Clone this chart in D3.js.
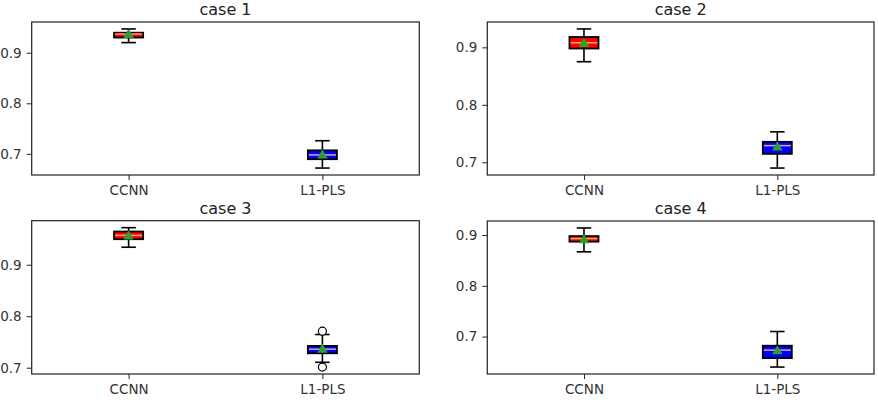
<!DOCTYPE html>
<html>
<head>
<meta charset="utf-8">
<script src="https://cdn.jsdelivr.net/npm/d3@7"></script>
<style>
  body { margin: 0; background: #fff; }
  text { font-family: "DejaVu Sans", sans-serif; }
</style>
</head>
<body>
<div id="chart"></div>
<script>
// values, one entry per case: [CCNN, L1-PLS]
const cases = ["case 1", "case 2", "case 3", "case 4"];
const methods = ["CCNN", "L1-PLS"];
const whiskerLow  = [[0.920, 0.672], [0.875, 0.690], [0.934, 0.7105], [0.867, 0.640]];
const q1          = [[0.930, 0.6895], [0.898, 0.7147], [0.9496, 0.728], [0.887, 0.6576]];
const medians     = [[0.937, 0.698], [0.908, 0.729], [0.957, 0.736], [0.893, 0.6733]];
const q3          = [[0.9396, 0.707], [0.918, 0.7356], [0.9645, 0.7423], [0.898, 0.682]];
const whiskerHigh = [[0.947, 0.726], [0.932, 0.753], [0.972, 0.7645], [0.914, 0.710]];
const means       = [[0.935, 0.697], [0.906, 0.726], [0.955, 0.735], [0.890, 0.671]];
const outliers    = [[[], []], [[], []], [[], [0.771, 0.7013]], [[], []]];
const yTicks = [0.7, 0.8, 0.9];

const boxFill = ["#ff0000", "#0000ff"];
const medianColor = ["#ffa060", "#d8a6c6"];

const W = 878, H = 406;
const panels = [
  {x0: 31.7, x1: 419.3, y0: 22, y1: 175},
  {x0: 487.3, x1: 874, y0: 22, y1: 175},
  {x0: 31.7, x1: 419.3, y0: 220.7, y1: 374},
  {x0: 487.3, x1: 874, y0: 221, y1: 374}
];

const svg = d3.select("#chart").append("svg")
    .attr("width", W)
    .attr("height", H);

cases.forEach(function(name, c) {
    let p = panels[c];
    let g = svg.append("g");

    // matplotlib style autoscale: data extent plus 5% margin
    let all = whiskerLow[c].concat(whiskerHigh[c], outliers[c][0], outliers[c][1]);
    let lo = d3.min(all), hi = d3.max(all), pad = (hi - lo) * 0.05;

    let x = d3.scaleLinear().domain([0.5, 2.5]).range([p.x0, p.x1]);
    let y = d3.scaleLinear().domain([lo - pad, hi + pad]).range([p.y1, p.y0]);

    let yAxis = g.append("g")
        .attr("transform", "translate(" + p.x0 + ",0)")
        .call(d3.axisLeft(y).tickValues(yTicks.filter(function(t) { return t >= y.domain()[0] && t <= y.domain()[1]; }))
            .tickFormat(d3.format(".1f")).tickSize(5).tickPadding(5));
    let xAxis = g.append("g")
        .attr("transform", "translate(0," + p.y1 + ")")
        .call(d3.axisBottom(x).tickValues([1, 2])
            .tickFormat(function(d) { return methods[d - 1]; }).tickSize(5).tickPadding(5));
    [yAxis, xAxis].forEach(function(a) {
        a.select(".domain").remove();
        a.selectAll(".tick line").attr("stroke", "#222").attr("stroke-width", 1);
        a.selectAll(".tick text").attr("fill", "#333").style("font-size", "13.5px");
    });

    g.append("rect")
        .attr("x", p.x0).attr("y", p.y0)
        .attr("width", p.x1 - p.x0).attr("height", p.y1 - p.y0)
        .attr("fill", "none").attr("stroke", "#222").attr("stroke-width", 1.2);

    g.append("text")
        .attr("x", (p.x0 + p.x1) / 2)
        .attr("y", p.y0 - 7)
        .attr("text-anchor", "middle")
        .style("font-size", "16px")
        .attr("fill", "#222")
        .text(name);

    methods.forEach(function(m, i) {
        let pos = i + 1;
        let bx0 = x(pos - 0.075), bx1 = x(pos + 0.075);
        let cx0 = x(pos - 0.0375), cx1 = x(pos + 0.0375);
        let cx = x(pos);

        // whiskers
        g.append("line").attr("x1", cx).attr("x2", cx)
            .attr("y1", y(q3[c][i])).attr("y2", y(whiskerHigh[c][i]))
            .attr("stroke", "#000").attr("stroke-width", 1.6);
        g.append("line").attr("x1", cx).attr("x2", cx)
            .attr("y1", y(q1[c][i])).attr("y2", y(whiskerLow[c][i]))
            .attr("stroke", "#000").attr("stroke-width", 1.6);
        // caps
        [whiskerHigh[c][i], whiskerLow[c][i]].forEach(function(v) {
            g.append("line").attr("x1", cx0).attr("x2", cx1)
                .attr("y1", y(v)).attr("y2", y(v))
                .attr("stroke", "#000").attr("stroke-width", 1.6);
        });
        // box
        g.append("rect")
            .attr("x", bx0).attr("y", y(q3[c][i]))
            .attr("width", bx1 - bx0)
            .attr("height", y(q1[c][i]) - y(q3[c][i]))
            .attr("fill", boxFill[i])
            .attr("stroke", "#000").attr("stroke-width", 1.8);
        // median
        g.append("line").attr("x1", bx0 + 1).attr("x2", bx1 - 1)
            .attr("y1", y(medians[c][i])).attr("y2", y(medians[c][i]))
            .attr("stroke", medianColor[i]).attr("stroke-width", 1.5);
        // outliers
        g.selectAll(null).data(outliers[c][i]).enter()
            .append("circle")
            .attr("cx", cx).attr("cy", function(d) { return y(d); })
            .attr("r", 4)
            .attr("fill", "#fff").attr("stroke", "#000").attr("stroke-width", 1.2);
        // mean
        g.append("path")
            .attr("d", d3.symbol(d3.symbolTriangle, 48)())
            .attr("transform", "translate(" + cx + "," + y(means[c][i]) + ")")
            .attr("fill", "#2ca02c");
    });
});
</script>
</body>
</html>
